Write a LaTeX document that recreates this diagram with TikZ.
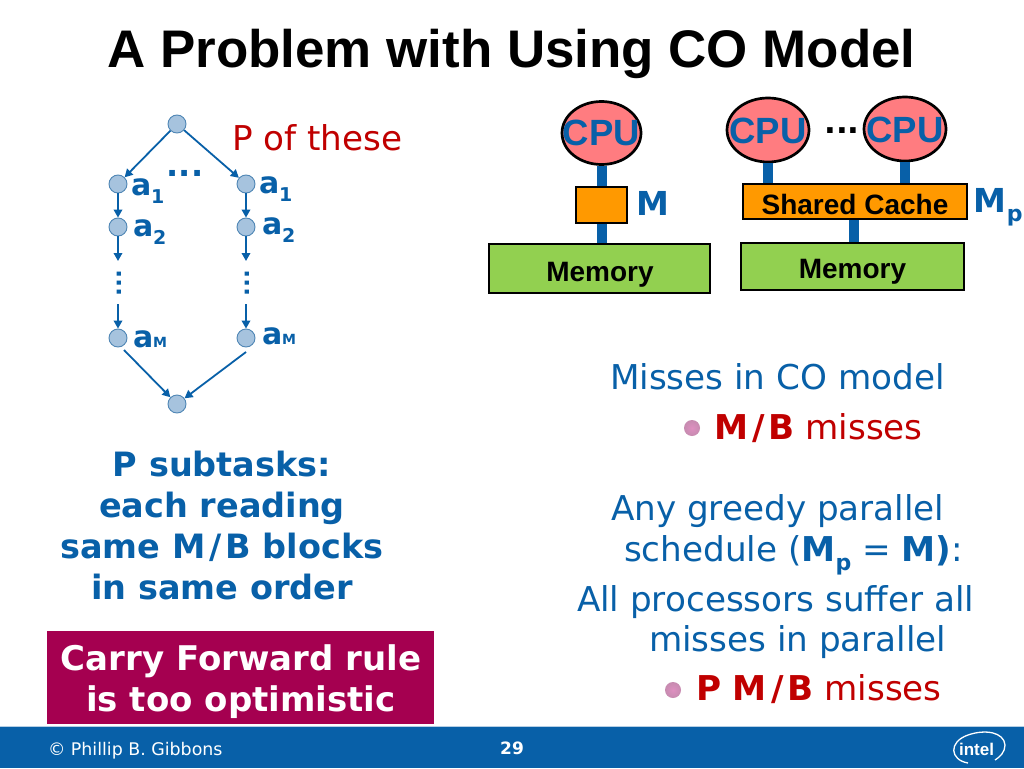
\documentclass[tikz,border=0pt]{standalone}
\usepackage{fontspec}
\setmainfont{DejaVu Sans}
\newfontfamily\arialf{Liberation Sans}
\usetikzlibrary{arrows.meta,shapes.geometric}
\definecolor{ibl}{HTML}{0860A8}
\definecolor{ird}{HTML}{C00000}
\definecolor{ibox}{HTML}{A50050}
\definecolor{icirc}{HTML}{A6C3DE}
\definecolor{icircb}{HTML}{4F86B5}
\definecolor{ipink}{HTML}{FF7C80}
\definecolor{iorange}{HTML}{FF9900}
\definecolor{igreen}{HTML}{92D050}
\definecolor{ibul}{HTML}{DE8FC0}
\newcommand{\fsz}[1]{\fontsize{#1pt}{#1pt}\selectfont}
\newcommand{\lowsub}[2]{\raisebox{-0.28em}{\fsz{#1}#2}}
\newcommand{\mob}{M\kern4pt/\kern4pt B}
\tikzset{
  x=1pt,y=-1pt,
  txt/.style={inner sep=0,outer sep=0,anchor=base west},
  ctxt/.style={inner sep=0,outer sep=0,anchor=base},
  dag/.style={circle,draw=icircb,fill=icirc,line width=0.9pt,minimum size=18pt,inner sep=0},
  flow/.style={draw=ibl,line width=1.8pt,-{Triangle[length=8pt,width=8.5pt]}},
  cpunode/.style={ellipse,draw=black,line width=2.7pt,fill=ipink,inner sep=0},
  cpulab/.style={ctxt,text=ibl,font=\arialf\bfseries\fsz{36.5}},
  cachebox/.style={draw=black,line width=2.7pt,fill=iorange,inner sep=0},
  membox/.style={draw=black,line width=2.7pt,fill=igreen,inner sep=0},
  boxlab/.style={ctxt,font=\arialf\bfseries\fsz{28}},
  bus/.style={draw=ibl,line width=10pt},
  bul/.style={circle,inner color=ibul,outer color=ibul!75!gray,draw=none,minimum size=16pt,inner sep=0},
  lab/.style={txt,text=ibl,font=\bfseries\fsz{30}},
  body/.style={txt,text=ibl,font=\fsz{34.2}},
  hot/.style={txt,text=ird,font=\fsz{34.2}},
  head/.style={ctxt,text=ibl,font=\bfseries\fsz{33.5}},
  memsize/.style={txt,text=ibl,font=\bfseries\fsz{33}},
}
\begin{document}
\begin{tikzpicture}
\useasboundingbox (0,0) rectangle (1024,768);
\fill[white] (0,0) rectangle (1024,768);
\node[ctxt,font=\arialf\bfseries\fsz{52.9}] (title) at (511.5,67) {A Problem with Using CO Model};
% DAG
\node[dag] (top) at (177,124) {};
\node[dag] (aL1) at (118,184) {};
\node[dag] (aR1) at (246,184) {};
\node[dag] (aL2) at (118,227) {};
\node[dag] (aR2) at (246,227) {};
\node[dag] (aLM) at (118,338) {};
\node[dag] (aRM) at (246,338) {};
\node[dag] (bot) at (177,404) {};
\coordinate (eL1) at (118,261);
\coordinate (eR1) at (246,261);
\coordinate (eL2) at (118,304);
\coordinate (eR2) at (246,304);
\coordinate (sL) at (124,350);
\coordinate (sR) at (246,352);
\draw[flow] (top) -- (aL1);
\draw[flow] (top) -- (aR1);
\draw[flow] (aL1) -- (aL2);
\draw[flow] (aR1) -- (aR2);
\draw[flow] (aL2) -- (eL1);
\draw[flow] (aR2) -- (eR1);
\draw[flow] (eL2) -- (aLM);
\draw[flow] (eR2) -- (aRM);
\draw[flow] (sL) -- (bot);
\draw[flow] (sR) -- (bot);
\node[lab] (l1) at (131,195) {a\lowsub{19}{1}};
\node[lab] (r1) at (259,193) {a\lowsub{19}{1}};
\node[lab] (l2) at (133,236) {a\lowsub{19}{2}};
\node[lab] (r2) at (262,234) {a\lowsub{19}{2}};
\node[lab] (lm) at (133,347) {a{\fsz{14}M}};
\node[lab] (rm) at (262,344) {a{\fsz{14}M}};
\node[ctxt,text=ibl,font=\bfseries\fsz{32}] (ddag) at (185,176) {...};
\node[text=ibl,font=\bfseries\fsz{23},rotate=90,inner sep=0] (vdl) at (119,283) {...};
\node[text=ibl,font=\bfseries\fsz{23},rotate=90,inner sep=0] (vdr) at (247,283) {...};
\node[txt,text=ird,font=\fsz{34.2}] (pof) at (232,150) {P of these};
% CO model
\node[cpunode,minimum width=79pt,minimum height=63pt] (cpu1) at (601.5,133) {};
\node[cpulab] (cpu1t) at (601.5,145) {CPU};
\node[cachebox,minimum width=51pt,minimum height=36pt] (m1) at (601.5,205) {};
\node[membox,minimum width=221pt,minimum height=49pt] (mem1) at (599.5,268.5) {};
\node[boxlab] (mem1t) at (600,281) {Memory};
\draw[bus] (cpu1) -- (m1);
\draw[bus] (m1.south -| cpu1) -- (mem1.north -| cpu1);
\node[memsize] (mlab) at (636,215) {M};
% Parallel
\node[cpunode,minimum width=82pt,minimum height=64pt] (cpu2) at (768,130) {};
\node[cpulab] (cpu2t) at (768,143) {CPU};
\node[cpunode,minimum width=82pt,minimum height=64pt] (cpu3) at (905,129) {};
\node[cpulab] (cpu3t) at (905,142) {CPU};
\node[cachebox,minimum width=224pt,minimum height=35pt] (cache) at (855,201.5) {};
\node[boxlab] (cachet) at (855,214) {Shared Cache};
\node[membox,minimum width=223pt,minimum height=47pt] (mem2) at (852.5,266.5) {};
\node[boxlab] (mem2t) at (852.5,278) {Memory};
\draw[bus] (cpu2) -- (cpu2 |- cache.north);
\draw[bus] (cpu3) -- (cpu3 |- cache.north);
\coordinate (busx) at (854,0);
\draw[bus] (busx |- cache.south) -- (busx |- mem2.north);
\node[ctxt,font=\bfseries\fsz{31}] (ddc) at (842,133) {...};
\node[memsize] (mplab) at (973,212) {M\kern1pt\lowsub{22}{p}};
% left text
\node[head] (h1) at (222,476) {P subtasks:};
\node[head] (h2) at (222,517) {each reading};
\node[head] (h3) at (222,558) {same \mob{} blocks};
\node[head] (h4) at (222,599) {in same order};
% red box
\node[fill=ibox,minimum width=387pt,minimum height=93pt,inner sep=0] (carry) at (240.5,677.5) {};
\node[ctxt,text=white,font=\bfseries\fsz{34}] (c1) at (241,670.5) {Carry Forward rule};
\node[ctxt,text=white,font=\bfseries\fsz{34}] (c2) at (241,711.5) {is too optimistic};
% right text
\node[body] (t1) at (610,389) {Misses in CO model};
\node[bul] (b1) at (692,428) {};
\node[hot] (t2) at (714,439) {\textbf{\mob} misses};
\node[body] (t3) at (611,520) {Any greedy parallel};
\node[body] (t4) at (624,561) {schedule (\textbf{M\lowsub{22}{p}} = \textbf{M)}:};
\node[body] (t5) at (577,611) {All processors suffer all};
\node[body] (t6) at (649,651) {misses in parallel};
\node[bul] (b2) at (673,690) {};
\node[hot] (t7) at (696,700) {\textbf{P \mob} misses};
% footer
\fill[ibl] (0,727) rectangle (1024,768);
\draw[white!70!ibl,line width=1pt] (0,726.5) -- (1024,726.5);
\node[txt,text=white,font=\fsz{17.4}] (foot) at (48,755) {© Phillip B. Gibbons};
\node[ctxt,text=white,font=\bfseries\fsz{17}] (pg) at (512,754) {29};
\draw[white,line width=1.3pt] (968,763) .. controls (950,760) and (948,742) .. (968,735) .. controls (985,729) and (1004,732) .. (1005,745) .. controls (1005,752) and (1000,757) .. (995,760);
\node[ctxt,text=white,font=\arialf\bfseries\fsz{17}] (intel) at (976.5,755) {intel};
\end{tikzpicture}
\end{document}
